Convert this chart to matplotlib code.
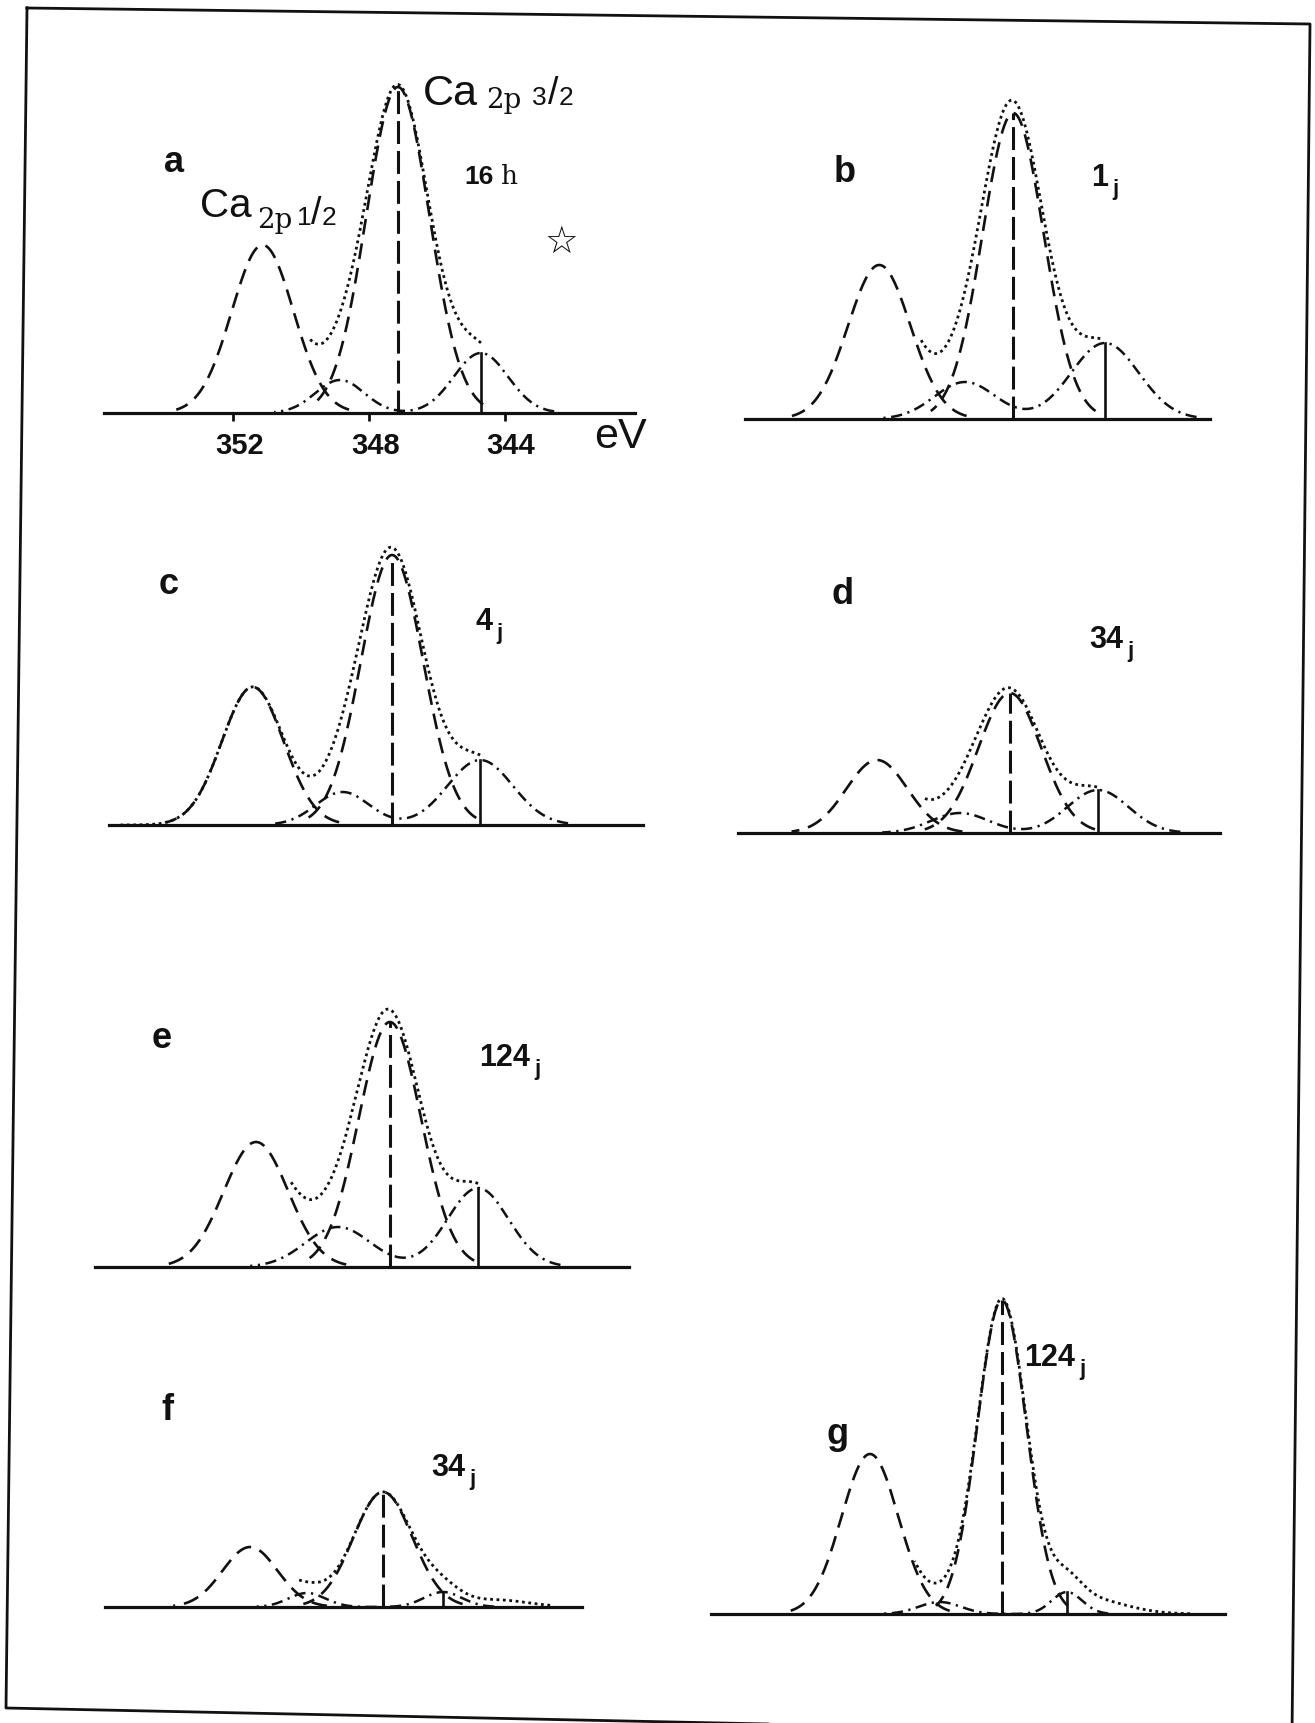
import numpy as np
import matplotlib.pyplot as plt
from matplotlib.lines import Line2D
from matplotlib.transforms import ScaledTranslation

W, H = 1315, 1723
PX = 33.9      # pixels per eV (from the 352 / 348 / 344 ticks of panel a)
AX_H = 380     # axes height in pixels, intensity is in the same units

panels = ['a', 'b', 'c', 'd', 'e', 'f', 'g']
times = ['16 h', '1j', '4j', '34j', '124j', '34j', '124j']

# Ca 2p1/2 component (dashed)
p12_ev = [351.14, 351.10, 351.26, 351.07, 351.10, 351.07, 351.04]
p12_h = [168, 154, 138, 73, 125, 60, 160]
p12_w = [0.91, 0.92, 0.91, 0.90, 0.95, 0.81, 0.84]
# Ca 2p3/2 component (dashed)
p32_ev = [347.15, 347.15, 347.15, 347.15, 347.15, 347.15, 347.15]
p32_h = [326, 306, 270, 140, 245, 115, 314]
p32_w = [0.93, 0.90, 0.92, 0.93, 0.92, 0.87, 0.72]
# dash-dot components
s1_ev = [348.86, 348.57, 348.61, 348.62, 348.68, 349.39, 348.98]
s1_h = [33, 37, 33, 20, 40, 14, 12]
s1_w = [0.72, 0.90, 0.79, 0.85, 0.96, 0.55, 0.62]
s2_ev = [344.70, 344.44, 344.55, 344.55, 344.55, 345.38, 345.23]
s2_h = [60, 76, 65, 43, 79, 15, 22]
s2_w = [0.80, 1.00, 0.96, 0.90, 0.90, 0.56, 0.45]
# low energy tail only present in the measured (dotted) curve
tail_ev = [344.0, 344.0, 344.0, 344.0, 344.0, 343.79, 344.70]
tail_h = [0, 0, 0, 0, 0, 7, 16]
tail_w = [1.0, 1.0, 1.0, 1.0, 1.0, 0.93, 1.10]
# energy span of the dotted curve
env_hi = [349.80, 349.89, 355.16, 349.72, 350.09, 349.69, 349.72]
env_lo = [344.70, 344.58, 344.55, 344.58, 344.55, 342.22, 341.60]
# energy span of each baseline
base_hi = [355.82, 355.06, 355.50, 355.17, 355.85, 355.35, 355.73]
base_lo = [340.16, 341.34, 339.75, 340.96, 340.10, 341.28, 340.57]
ticks_a = [352, 348, 344]

# layout (pixels): baseline start, letter, time label
base_px = [(104, 413), (745, 419), (109, 825), (738, 833), (95, 1267), (105, 1607), (711, 1614)]
letter_px = [(174, 163), (845, 172), (169, 585), (843, 595), (162, 1038), (167, 1410), (838, 1434)]
time_px = [(494, 177), (1108, 178), (492, 622), (1123, 640), (530, 1058), (465, 1468), (1075, 1358)]

SANS = 'Liberation Sans'
SERIF = 'DejaVu Serif'
INK = '#111111'
DASH = (0, (6, 3.4))
LONG = (0, (7.5, 2.3))
DASHDOT = (0, (4.5, 2.2, 0.9, 2.2))
DOT = (0, (1, 1.3))


def gauss(e, c, h, w):
    return h * np.exp(-0.5 * ((e - c) / w) ** 2)


def fxy(x, y):
    return x / W, 1 - y / H


fig = plt.figure(figsize=(W / 100, H / 100), dpi=100)

# page frame of the scan (slightly skewed)
fx, fy = zip(*[fxy(x, y) for x, y in [(27, 8), (1310, 24), (1292, 1735), (6, 1708), (27, 8)]])
fig.add_artist(Line2D(fx, fy, color=INK, lw=2.0, transform=fig.transFigure))

for i, p in enumerate(panels):
    x0, y0 = base_px[i]
    width = (base_hi[i] - base_lo[i]) * PX
    ax = fig.add_axes([x0 / W, 1 - y0 / H, width / W, AX_H / H])
    ax.set_xlim(base_hi[i], base_lo[i])
    ax.set_ylim(0, AX_H)
    ax.patch.set_visible(False)
    for s in ['top', 'left', 'right']:
        ax.spines[s].set_visible(False)
    ax.spines['bottom'].set_linewidth(2.3)
    ax.spines['bottom'].set_color(INK)
    ax.set_yticks([])
    if p == 'a':
        ax.set_xticks(ticks_a)
        ax.set_xticklabels([str(t) for t in ticks_a], fontfamily=SANS,
                           fontweight='bold', fontsize=21, color='#222222')
        ax.tick_params(axis='x', length=6, width=2, pad=8, colors=INK)
        shift = ScaledTranslation(6 / 100, 0, fig.dpi_scale_trans)
        for lab in ax.get_xticklabels():
            lab.set_transform(lab.get_transform() + shift)
    else:
        ax.set_xticks([])

    kw = dict(color=INK, clip_on=False)
    e12 = np.linspace(p12_ev[i] - 2.8 * p12_w[i], p12_ev[i] + 2.8 * p12_w[i], 300)
    ax.plot(e12, gauss(e12, p12_ev[i], p12_h[i], p12_w[i]), ls=DASH, lw=1.9, **kw)
    e32 = np.linspace(p32_ev[i] - 2.7 * p32_w[i], p32_ev[i] + 2.7 * p32_w[i], 300)
    ax.plot(e32, gauss(e32, p32_ev[i], p32_h[i], p32_w[i]), ls=DASH, lw=1.9, **kw)

    sat = lambda e: gauss(e, s1_ev[i], s1_h[i], s1_w[i]) + gauss(e, s2_ev[i], s2_h[i], s2_w[i])
    es = np.linspace(s2_ev[i] - 2.7 * s2_w[i], s1_ev[i] + 2.7 * s1_w[i], 400)
    ax.plot(es, sat(es), ls=DASHDOT, lw=1.8, **kw)

    ee = np.linspace(env_lo[i], env_hi[i], 500)
    env = (gauss(ee, p12_ev[i], p12_h[i], p12_w[i]) + gauss(ee, p32_ev[i], p32_h[i], p32_w[i])
           + sat(ee) + gauss(ee, tail_ev[i], tail_h[i], tail_w[i]))
    ax.plot(ee, env, ls=DOT, lw=2.0, **kw)

    ax.plot([p32_ev[i], p32_ev[i]], [0, p32_h[i]], ls=LONG, lw=2.2, **kw)
    ax.plot([s2_ev[i], s2_ev[i]], [0, sat(s2_ev[i])], ls='-', lw=1.9, **kw)

    lx, ly = fxy(*letter_px[i])
    fig.text(lx, ly, p, ha='center', va='center', fontfamily=SANS,
             fontweight='bold', fontsize=26, color=INK)

    tx, ty = fxy(*time_px[i])
    t = times[i]
    if t.endswith('h'):
        fig.text(tx, ty, t[:-2], ha='right', va='center', fontfamily=SANS,
                 fontsize=19, fontweight='bold', color=INK)
        fig.text(tx + 7 / W, ty, 'h', ha='left', va='center', fontfamily=SERIF,
                 fontsize=19, color=INK)
    else:
        fig.text(tx, ty, t[:-1], ha='right', va='center', fontfamily=SANS,
                 fontsize=22, fontweight='bold', color=INK)
        fig.text(tx + 4 / W, ty - 12 / H, 'j', ha='left', va='center', fontfamily=SANS,
                 fontsize=16, fontweight='bold', color=INK)


def label(x, y, s, size, family=SANS, ha='left'):
    fig.text(*fxy(x, y), s, ha=ha, va='center', fontfamily=family, fontsize=size, color=INK)


# peak labels of panel a
label(450, 94, 'Ca', 31, ha='center')
label(486, 100, '2p', 20, SERIF)
label(532, 98, '3', 19)
label(553, 94, '/', 27, ha='center')
label(559, 98, '2', 19)
label(226, 206, 'Ca', 29, ha='center')
label(257, 220, '2p', 20, SERIF)
label(297, 218, '1', 19)
label(316, 214, '/', 27, ha='center')
label(322, 218, '2', 19)
label(561, 243, '\u2606', 27, 'DejaVu Sans', ha='center')
label(620, 437, 'eV', 31, ha='center')

fig.savefig('out.png', dpi=100, facecolor='white')
